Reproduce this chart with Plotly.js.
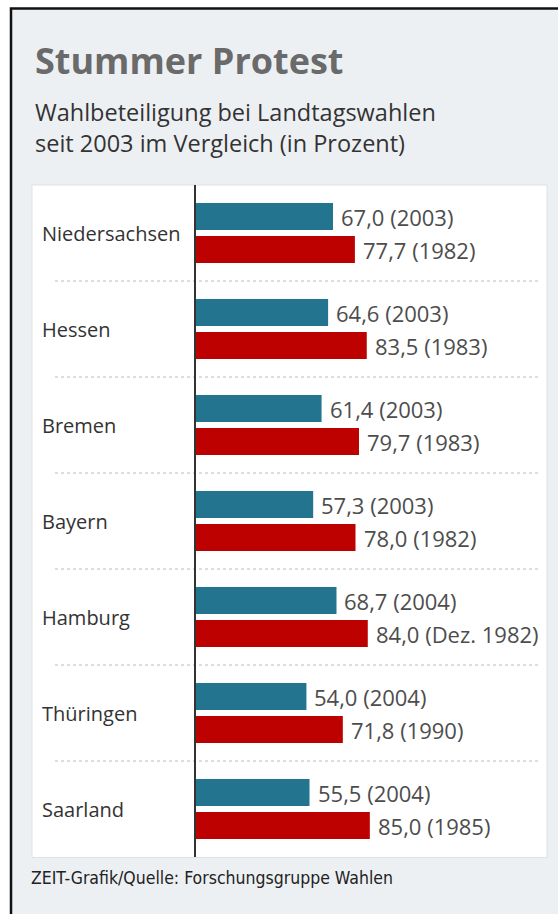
<!DOCTYPE html>
<html>
<head>
<meta charset="utf-8">
<script src="https://cdn.plot.ly/plotly-3.0.1.min.js"></script>
<style>
html,body{margin:0;padding:0;background:#fff;}
#chart{width:558px;height:914px;}
</style>
</head>
<body>
<div id="chart"></div>
<script>
// ---- data ----
var states = ["Niedersachsen", "Hessen", "Bremen", "Bayern", "Hamburg", "Thüringen", "Saarland"];
var recentValues = [67.0, 64.6, 61.4, 57.3, 68.7, 54.0, 55.5];
var recentYears = ["2003", "2003", "2003", "2003", "2004", "2004", "2004"];
var pastValues = [77.7, 83.5, 79.7, 78.0, 84.0, 71.8, 85.0];
var pastYears = ["1982", "1983", "1983", "1982", "Dez. 1982", "1990", "1985"];

// ---- layout helpers (pixel -> paper, with zero margins) ----
var W = 558, H = 914;
function px(x) { return x / W; }
function py(y) { return 1 - y / H; }
function fmt(v) { return v.toFixed(1).replace('.', ','); }

var FONT = "Open Sans, Noto Sans, sans-serif";
var blue = "#22748f", red = "#bd0000";

var plotLeft = 196, plotRight = 546, plotTop = 185, plotBottom = 857;
var catPx = (plotBottom - plotTop) / states.length;
var pxPerUnit = 2.045;

var traces = [
  {type: "bar", orientation: "h", y: states, x: recentValues, name: "seit 2003",
   marker: {color: blue, line: {width: 0}}, hoverinfo: "x+y"},
  {type: "bar", orientation: "h", y: states, x: pastValues, name: "früher",
   marker: {color: red, line: {width: 0}}, hoverinfo: "x+y"}
];

var annotations = [];
var shapes = [];

// page background with black border top/left
shapes.push({type: "rect", xref: "paper", yref: "paper", layer: "below",
  x0: px(11), x1: px(W + 5), y0: py(H + 5), y1: py(8.5),
  fillcolor: "#edf0f3", line: {color: "#111", width: 2.5}});
// white panel
shapes.push({type: "rect", xref: "paper", yref: "paper", layer: "below",
  x0: px(32), x1: px(547), y0: py(857.5), y1: py(185),
  fillcolor: "#ffffff", line: {color: "#dde1e4", width: 1}});

// separators between categories
for (var i = 0; i < states.length - 1; i++) {
  shapes.push({type: "line", xref: "paper", yref: "y", layer: "below",
    x0: px(55), x1: px(540), y0: i + 0.5, y1: i + 0.5,
    line: {color: "#b8bcc0", width: 1, dash: "dot"}});
}

for (var j = 0; j < states.length; j++) {
  annotations.push({xref: "paper", yref: "y", x: px(40), y: states[j],
    xanchor: "left", yanchor: "middle", showarrow: false, text: states[j],
    font: {family: FONT, size: 20, color: "#333"}});
  annotations.push({xref: "x", yref: "y", x: recentValues[j], y: states[j],
    xanchor: "left", yanchor: "middle", showarrow: false, xshift: 6, yshift: 16.5,
    text: fmt(recentValues[j]) + " (" + recentYears[j] + ")",
    font: {family: FONT, size: 22, color: "#4d4d4d"}});
  annotations.push({xref: "x", yref: "y", x: pastValues[j], y: states[j],
    xanchor: "left", yanchor: "middle", showarrow: false, xshift: 6, yshift: -16.5,
    text: fmt(pastValues[j]) + " (" + pastYears[j] + ")",
    font: {family: FONT, size: 22, color: "#4d4d4d"}});
}

// titles and source
annotations.push({xref: "paper", yref: "paper", x: px(33), y: py(61), xanchor: "left", yanchor: "middle",
  showarrow: false, text: "<b>Stummer Protest</b>", font: {family: FONT, size: 36, color: "#6a6a6a"}});
annotations.push({xref: "paper", yref: "paper", x: px(33), y: py(127), xanchor: "left", yanchor: "middle",
  showarrow: false, align: "left",
  text: "Wahlbeteiligung bei Landtagswahlen<br>seit 2003 im Vergleich (in Prozent)",
  font: {family: FONT, size: 23.5, color: "#333"}});
annotations.push({xref: "paper", yref: "paper", x: px(29), y: py(878), xanchor: "left", yanchor: "middle",
  showarrow: false, text: "ZEIT-Grafik/Quelle: Forschungsgruppe Wahlen",
  font: {family: "DejaVu Sans Condensed, Liberation Sans Narrow, sans-serif", size: 17.5, color: "#222"}});

var layout = {
  width: W, height: H,
  margin: {l: 0, r: 0, t: 0, b: 0, pad: 0},
  paper_bgcolor: "#ffffff", plot_bgcolor: "rgba(0,0,0,0)",
  showlegend: false,
  barmode: "group",
  bargap: 1 - 66 / catPx,
  bargroupgap: 1 - 27 / 33,
  xaxis: {domain: [px(plotLeft), px(plotRight)], range: [0, (plotRight - plotLeft) / pxPerUnit],
    showgrid: false, zeroline: false, showticklabels: false, ticks: "", showline: false, fixedrange: true},
  yaxis: {domain: [py(plotBottom), py(plotTop)], range: [states.length - 0.5, -0.5],
    showgrid: false, zeroline: false, showticklabels: false, ticks: "",
    showline: true, linecolor: "#333", linewidth: 2, fixedrange: true},
  shapes: shapes,
  annotations: annotations
};

Plotly.newPlot("chart", traces, layout, {displayModeBar: false, staticPlot: true});
</script>
</body>
</html>
